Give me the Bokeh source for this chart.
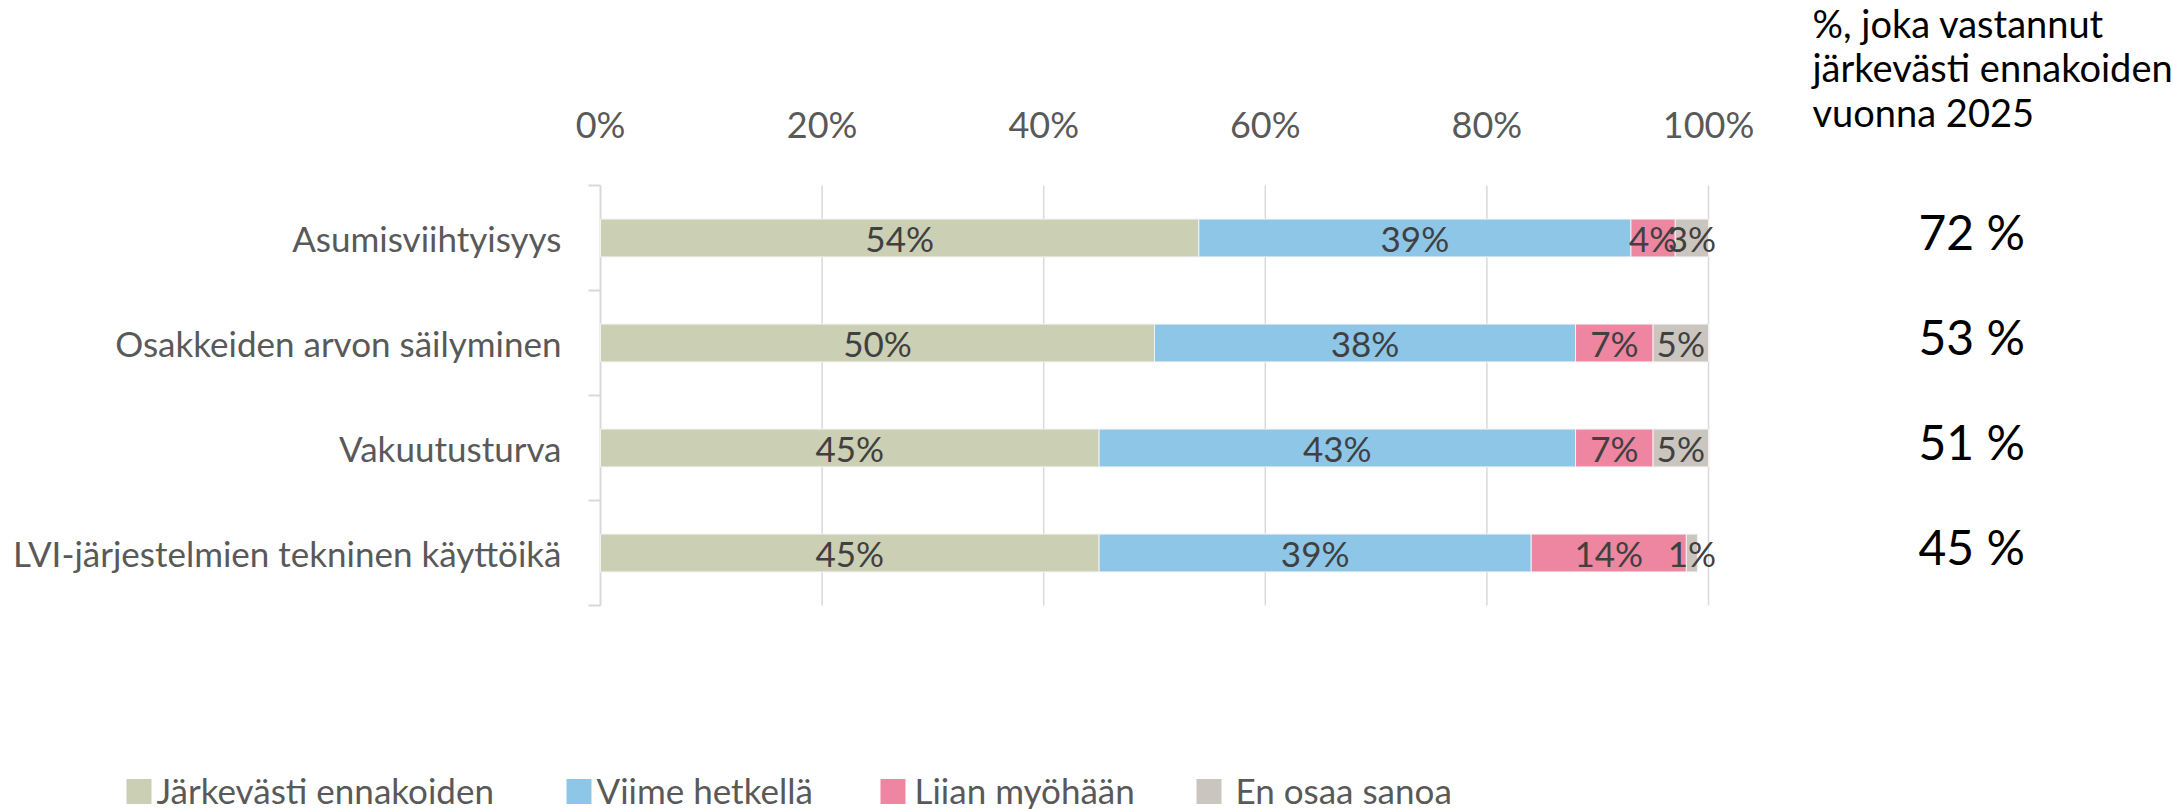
from bokeh.plotting import figure
from bokeh.models import ColumnDataSource, Range1d
from bokeh.core.properties import value
from bokeh.embed import file_html
from bokeh.resources import INLINE

# ---------------- data ----------------
categories = ["Asumisviihtyisyys", "Osakkeiden arvon säilyminen",
              "Vakuutusturva", "LVI-järjestelmien tekninen käyttöikä"]
series_names = ["Järkevästi ennakoiden", "Viime hetkellä", "Liian myöhään", "En osaa sanoa"]
jarkevasti = [54, 50, 45, 45]
viime_hetkella = [39, 38, 43, 39]
liian_myohaan = [4, 7, 7, 14]
en_osaa = [3, 5, 5, 1]
share_2025 = ["72 %", "53 %", "51 %", "45 %"]
side_title_lines = ["%, joka vastannut", "järkevästi ennakoiden", "vuonna 2025"]
x_ticks = [0, 20, 40, 60, 80, 100]

colors = ["#CBCFB4", "#8EC6E8", "#EE86A1", "#CBC5BF"]
FONT = value("Lato")
GRID = "#D9D9D9"
GREY_TXT = "#595959"

# ---------------- page geometry (pixels) ----------------
W, H = 2172, 809
PL, PR, PT, PB = 600, 1708, 185, 605        # plot area
n = len(categories)
UNIT = (PB - PT) / n                          # pixels per category


def X(px):
    return (px - PL) / (PR - PL) * 100.0


def Y(py):
    return (PB - py) / UNIT


def dY(dpx):
    return dpx / UNIT


p = figure(width=W, height=H, output_backend="svg", toolbar_location=None,
           x_range=Range1d(X(0), X(W)), y_range=Range1d(Y(H), Y(0)),
           x_axis_type=None, y_axis_type=None, min_border=0)
p.outline_line_color = None
p.background_fill_color = "white"
p.border_fill_color = "white"
p.xgrid.visible = False
p.ygrid.visible = False

ys = [n - i - 0.5 for i in range(n)]

# ---- grid, axis line and category ticks ----
p.segment(x0=x_ticks[1:], y0=[0] * (len(x_ticks) - 1), x1=x_ticks[1:],
          y1=[n] * (len(x_ticks) - 1), line_color=GRID, line_width=1.5)
p.segment(x0=[0], y0=[0], x1=[0], y1=[n], line_color=GRID, line_width=2)
bounds = list(range(n + 1))
p.segment(x0=[X(PL - 12)] * len(bounds), y0=bounds, x1=[0] * len(bounds), y1=bounds,
          line_color=GRID, line_width=2)

# ---- stacked bars ----
keys = ["s0", "s1", "s2", "s3"]
vals = [jarkevasti, viime_hetkella, liian_myohaan, en_osaa]
source = ColumnDataSource(dict(y=ys, **{k: v for k, v in zip(keys, vals)}))
bars = p.hbar_stack(keys, y="y", height=0.36, color=colors, source=source,
                    line_color="#F2F2F2", line_width=1.0)

# ---- data labels ----
lx, ly, lt = [], [], []
for i in range(n):
    left = 0
    for v in vals:
        w = v[i]
        lx.append(left + w / 2)
        ly.append(ys[i])
        lt.append(f"{w}%")
        left += w
p.text(x="x", y="y", text="t", source=ColumnDataSource(dict(x=lx, y=ly, t=lt)),
       text_font=FONT, text_font_size="35px", text_color="#404040",
       text_align="center", text_baseline="middle")

# ---- x tick labels (top) ----
p.text(x=x_ticks, y=[Y(123)] * len(x_ticks), text=[f"{t}%" for t in x_ticks],
       text_font=FONT, text_font_size="36px", text_color=GREY_TXT,
       text_align="center", text_baseline="middle")

# ---- category labels (left) ----
p.text(x=[X(561)] * n, y=ys, text=categories,
       text_font=FONT, text_font_size="35px", text_color=GREY_TXT,
       text_align="right", text_baseline="middle")

# ---- 2025 shares (right) ----
p.text(x=[X(1918)] * n, y=[y + dY(7) for y in ys], text=share_2025,
       text_font=FONT, text_font_size="48px", text_color="#000000",
       text_align="left", text_baseline="middle")

# ---- side heading ----
head_mid = [22, 66.5, 111]
p.text(x=[X(1812)] * len(side_title_lines), y=[Y(m) for m in head_mid],
       text=side_title_lines, text_font=FONT, text_font_size="38px",
       text_color="#000000", text_align="left", text_baseline="middle")

# ---- legend (bottom row) ----
sq_left = [126, 566, 880, 1196]
txt_left = [156, 596, 914, 1235]
SQ = 25
leg_src = ColumnDataSource(dict(
    x=[X(l + SQ / 2) for l in sq_left], y=[Y(791)] * len(sq_left),
    c=colors, tx=[X(t) for t in txt_left], ty=[Y(789)] * len(txt_left),
    name=series_names))
p.scatter(x="x", y="y", marker="square", size=SQ, fill_color="c", line_color=None,
          source=leg_src)
p.text(x="tx", y="ty", text="name", source=leg_src, text_font=FONT,
       text_font_size="35px", text_color=GREY_TXT, text_align="left",
       text_baseline="middle")

open("out.html", "w").write(file_html(p, INLINE))
